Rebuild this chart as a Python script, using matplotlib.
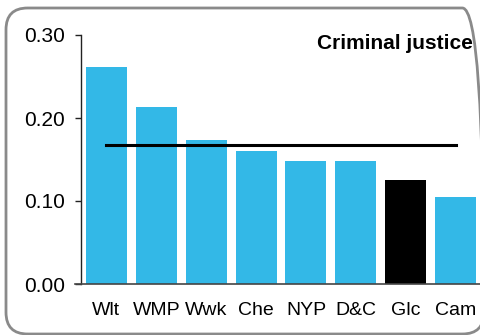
import matplotlib
matplotlib.use("Agg")
import matplotlib.pyplot as plt
from matplotlib.patches import FancyBboxPatch
from matplotlib.lines import Line2D

plt.rcParams['font.family'] = ['Liberation Sans', 'DejaVu Sans']

regions = ['Wlt', 'WMP', 'Wwk', 'Che', 'NYP', 'D&C', 'Glc', 'Cam']
values = [0.261, 0.213, 0.1735, 0.160, 0.148, 0.148, 0.125, 0.105]
highlight = 'Glc'
average = 0.167
yticks = [0.0, 0.1, 0.2, 0.3]
title = 'Criminal justice'

W, H = 481, 335
fig = plt.figure(figsize=(W / 100, H / 100), dpi=100)

# rounded frame round the whole chart (right edge runs just off the picture)
box = FancyBboxPatch((6 / W, 1 / H), (478 / W), (326 / H),
                     boxstyle="round,pad=0,rounding_size=0.045",
                     transform=fig.transFigure, fill=False,
                     edgecolor='#8a8a8a', linewidth=2, mutation_aspect=W / H)
fig.add_artist(box)

ax = fig.add_axes([81 / W, 1 - 284 / H, 1 - 81 / W, (284 - 35) / H])

colors = ['black' if r == highlight else '#33b8e7' for r in regions]
x = range(len(regions))
ax.bar(x, values, width=0.82, color=colors, zorder=2)
ax.plot([0, len(regions) - 1], [average, average], color='black', lw=2.2, zorder=3)

ax.set_xlim(-0.51, len(regions) - 0.49)
ax.set_ylim(0, 0.30)
ax.set_yticks(yticks)
ax.set_yticklabels(['{:.2f}'.format(v) for v in yticks], fontsize=15)
ax.set_xticks(list(x))
ax.set_xticklabels(regions, fontsize=14)
ax.tick_params(axis='x', length=0, pad=13)
ax.tick_params(axis='y', length=4.5, width=1, pad=7, color='#222222')

for s in ['top', 'right', 'bottom']:
    ax.spines[s].set_visible(False)
ax.spines['left'].set_color('#222222')
ax.spines['left'].set_linewidth(1)

# baseline running slightly past the y axis
fig.add_artist(Line2D([75 / W, 1], [1 - 284 / H, 1 - 284 / H],
                      color='#444444', lw=1.2))

ax.text(0.98, 0.965, title, transform=ax.transAxes, ha='right', va='center',
        fontsize=15, fontweight='bold')

fig.savefig('out.png', dpi=100)
